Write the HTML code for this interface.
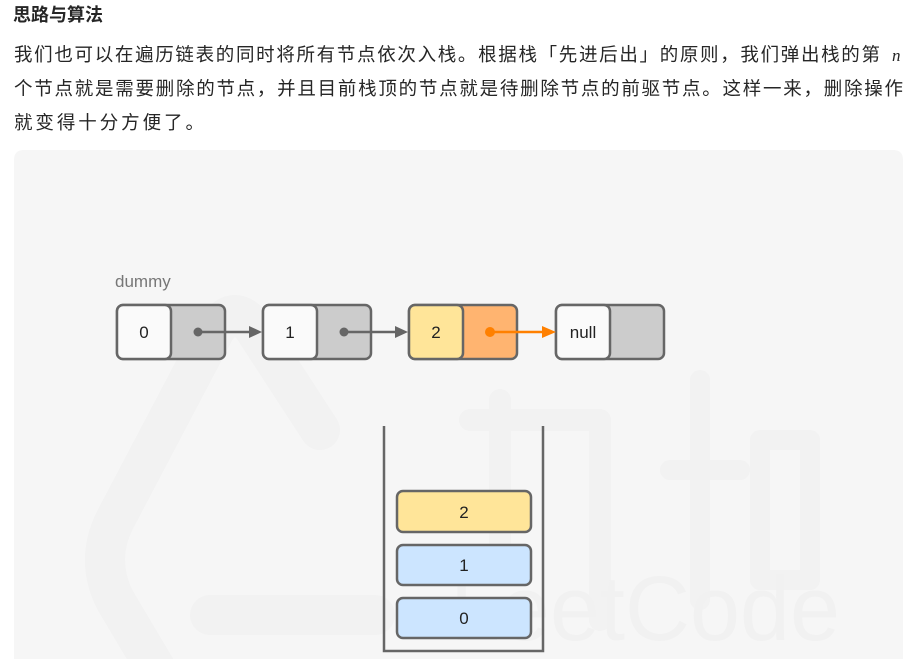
<!DOCTYPE html>
<html><head><meta charset="utf-8"><style>
html,body{margin:0;padding:0;background:#fff;width:918px;height:659px;overflow:hidden}
svg{display:block}
</style></head><body>
<svg width="918" height="659" viewBox="0 0 918 659" xmlns="http://www.w3.org/2000/svg" font-family="'Liberation Sans','Noto Sans CJK SC',sans-serif">
<text x="13" y="21" font-size="18" font-weight="bold" fill="#262626">思路与算法</text>
<g font-size="18.5" fill="#262626">
<text x="14" y="61" textLength="866" lengthAdjust="spacing">我们也可以在遍历链表的同时将所有节点依次入栈。根据栈「先进后出」的原则，我们弹出栈的第</text>
<text x="892" y="61" font-size="17" font-family="'Liberation Serif',serif" font-style="italic">n</text>
<text x="14" y="95" textLength="889" lengthAdjust="spacing">个节点就是需要删除的节点，并且目前栈顶的节点就是待删除节点的前驱节点。这样一来，删除操作</text>
<text x="14" y="129" textLength="190" lengthAdjust="spacing">就变得十分方便了。</text>
</g>
<path d="M14 659 L14 160 Q14 150 24 150 L893 150 Q903 150 903 160 L903 659 Z" fill="#f6f6f6"/>
<!-- watermark -->
<g fill="none" stroke="#f2f2f2" stroke-linecap="round" stroke-linejoin="round">
<path d="M320 430 L255 330 Q235 300 215 330 L115 520 Q95 560 115 600 L210 760" stroke-width="40"/>
<path d="M210 615 L375 615" stroke-width="40"/>
<path d="M500 400 L500 560 M470 420 L600 420 L600 620" stroke-width="22"/>
<path d="M700 380 L700 600 M670 470 L740 470 M760 440 L810 440 L810 580 L760 580 Z" stroke-width="20"/>
</g>
<text x="450" y="640" font-size="92" fill="#f1f1f1" textLength="390" lengthAdjust="spacingAndGlyphs">LeetCode</text>
<text x="115" y="287" font-size="17" fill="#777">dummy</text>
<g stroke="#666" stroke-width="2.5">
<rect x="117" y="305" width="108" height="54" rx="6" fill="#cccccc"/>
<rect x="117" y="305" width="54" height="54" rx="6" fill="#fafafa"/>
<rect x="263" y="305" width="108" height="54" rx="6" fill="#cccccc"/>
<rect x="263" y="305" width="54" height="54" rx="6" fill="#fafafa"/>
<rect x="409" y="305" width="108" height="54" rx="6" fill="#ffb470"/>
<rect x="409" y="305" width="54" height="54" rx="6" fill="#ffe599"/>
<rect x="556" y="305" width="108" height="54" rx="6" fill="#cccccc"/>
<rect x="556" y="305" width="54" height="54" rx="6" fill="#fafafa"/>
</g>
<g stroke="#666" stroke-width="2.5" fill="#666">
<line x1="198" y1="332" x2="250" y2="332"/><circle cx="198" cy="332" r="4.5" stroke="none"/>
<path d="M262 332 L249 326 L249 338 Z" stroke="none"/>
<line x1="344" y1="332" x2="396" y2="332"/><circle cx="344" cy="332" r="4.5" stroke="none"/>
<path d="M408 332 L395 326 L395 338 Z" stroke="none"/>
</g>
<g stroke="#ff8000" stroke-width="2.5" fill="#ff8000">
<line x1="490" y1="332" x2="543" y2="332"/><circle cx="490" cy="332" r="5" stroke="none"/>
<path d="M556 332 L542 326 L542 338 Z" stroke="none"/>
</g>
<g font-size="17" fill="#222" text-anchor="middle">
<text x="144" y="338">0</text><text x="290" y="338">1</text><text x="436" y="338">2</text><text x="583" y="338">null</text>
</g>
<path d="M384 426 L384 651 L543 651 L543 426" fill="none" stroke="#666" stroke-width="2.5"/>
<g stroke="#666" stroke-width="2.5">
<rect x="397" y="491" width="134" height="41" rx="6" fill="#ffe599"/>
<rect x="397" y="545" width="134" height="40" rx="6" fill="#cce5ff"/>
<rect x="397" y="598" width="134" height="40" rx="6" fill="#cce5ff"/>
</g>
<g font-size="17" fill="#222" text-anchor="middle">
<text x="464" y="518">2</text><text x="464" y="571">1</text><text x="464" y="624">0</text>
</g>
</svg>
</body></html>
